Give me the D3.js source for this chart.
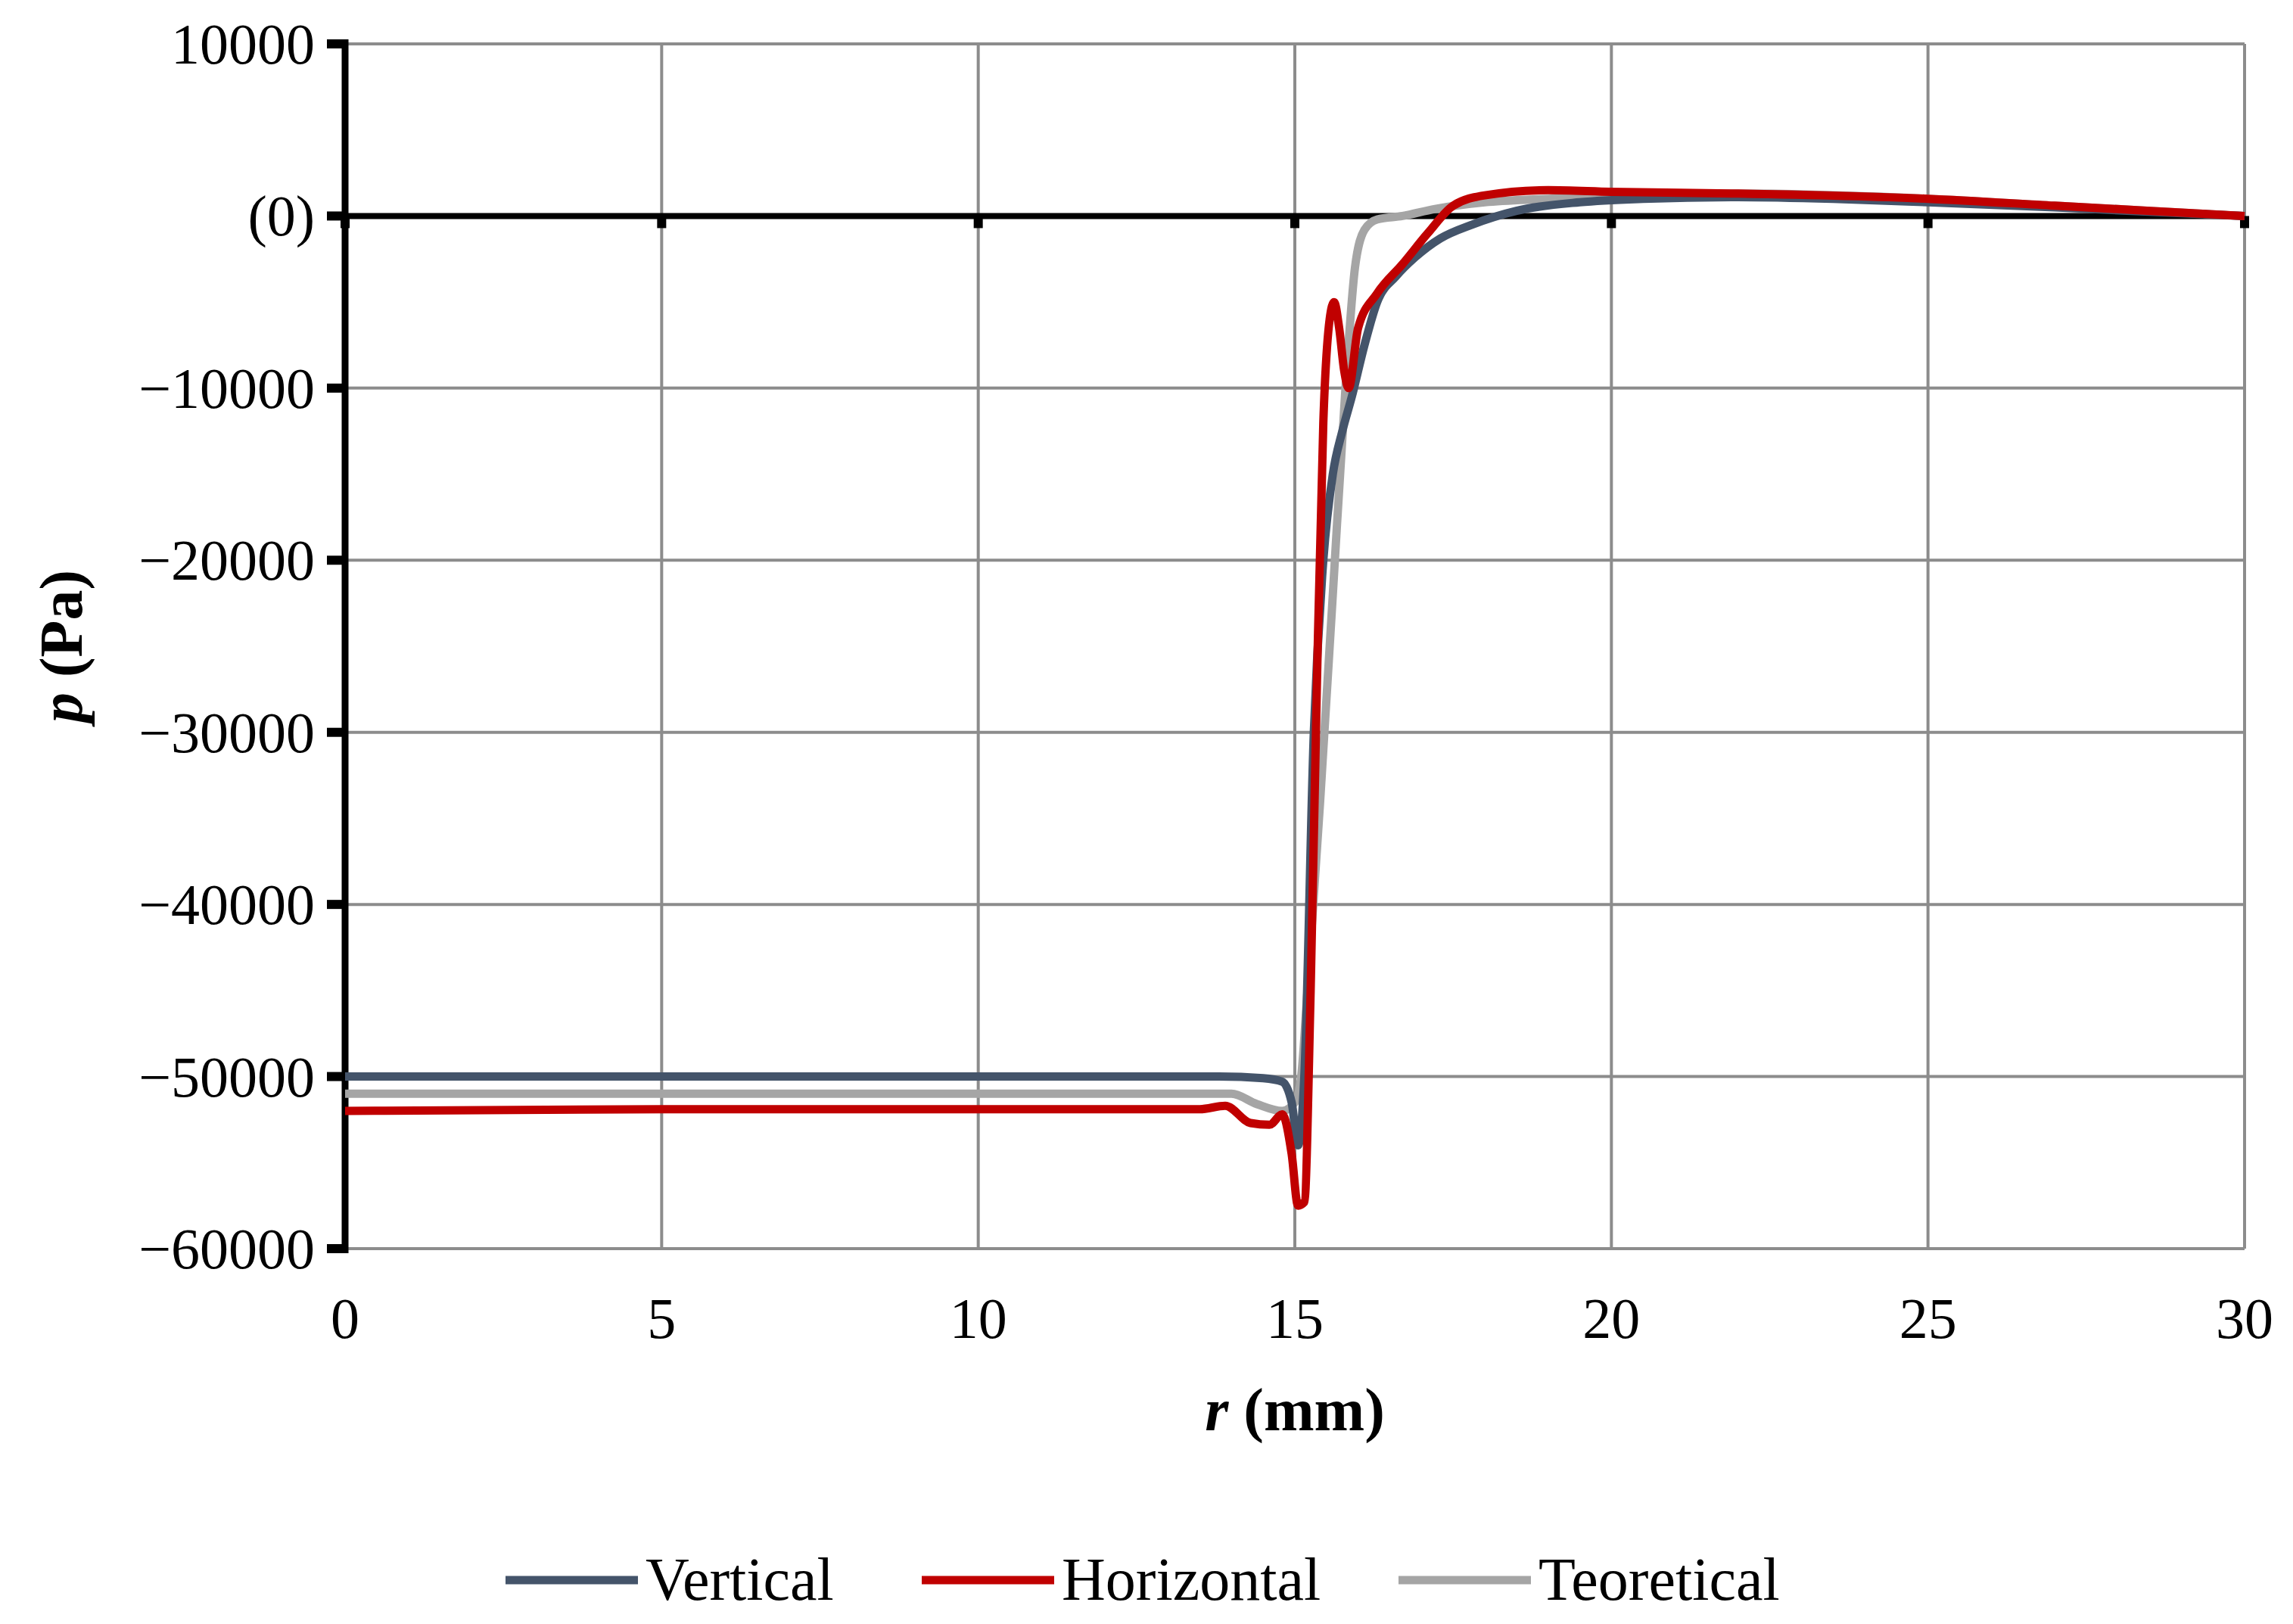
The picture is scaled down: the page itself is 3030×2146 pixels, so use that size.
<!DOCTYPE html>
<html><head><meta charset="utf-8">
<script src="https://cdn.jsdelivr.net/npm/d3@7"></script>
<style>body{margin:0;background:#fff}</style></head>
<body><svg id="c" width="3030" height="2146"></svg>
<script>
const seriesNames=["Vertical","Horizontal","Teoretical"];
const colors=["#44546a","#c00000","#a5a5a5"];
const vertR=[0,5,10,13.8,14.5,14.8,14.95,15.05,15.15,15.3,15.45,15.6,15.75,15.9,16.1,16.3,16.6,16.9,17.3,17.8,18.5,19.5,20.5,22,23.5,25,27,30];
const vertP=[-50000,-50000,-50000,-50000,-50100,-50300,-51500,-54000,-50000,-30000,-20000,-15000,-12500,-10500,-7500,-5000,-3500,-2400,-1300,-500,300,800,1000,1100,1000,800,500,0];
const horR=[0,5,10,13.5,13.9,14.3,14.6,14.8,14.95,15.05,15.15,15.25,15.35,15.45,15.55,15.62,15.7,15.78,15.85,16.0,16.3,16.7,17.1,17.5,18,19,20,22,25,27,30];
const horP=[-52000,-51900,-51900,-51900,-51700,-52700,-52800,-52200,-54500,-57500,-57300,-45000,-27000,-12000,-6000,-5000,-6500,-9000,-10000,-6500,-4500,-2800,-1000,600,1200,1500,1400,1300,1000,600,0];
const teoR=[0,5,10,14.0,14.4,14.8,15.0,15.1,15.2,15.4,15.6,15.8,15.95,16.1,16.3,16.7,17.2,18,19,20,22,25,27,30];
const teoP=[-51000,-51000,-51000,-51000,-51600,-52000,-51500,-50000,-45000,-34000,-22000,-10000,-3000,-800,-200,0,400,800,1000,1200,1300,1000,600,0];
const xTicks=[0,5,10,15,20,25,30];
const yTicks=[10000,0,-10000,-20000,-30000,-40000,-50000,-60000];
const yTickLabels=["10000","(0)","\u221210000","\u221220000","\u221230000","\u221240000","\u221250000","\u221260000"];

const svg=d3.select("#c");
const L=456,R=2966,T=58,B=1650;
const x=d3.scaleLinear().domain([0,30]).range([L,R]);
const y=d3.scaleLinear().domain([-60000,10000]).range([B,T]);
const font="'Liberation Serif','Times New Roman',serif";
svg.append("g").selectAll("line").data(xTicks.slice(1)).join("line")
 .attr("x1",d=>x(d)).attr("x2",d=>x(d)).attr("y1",T).attr("y2",B).attr("stroke","#8c8c8c").attr("stroke-width",4);
svg.append("g").selectAll("line").data(yTicks.filter(d=>d!==0)).join("line")
 .attr("x1",L).attr("x2",R).attr("y1",d=>y(d)).attr("y2",d=>y(d)).attr("stroke","#8c8c8c").attr("stroke-width",4);
svg.append("line").attr("x1",L).attr("x2",R).attr("y1",y(0)).attr("y2",y(0)).attr("stroke","#000").attr("stroke-width",8);
svg.append("g").selectAll("line").data(xTicks).join("line")
 .attr("x1",d=>x(d)).attr("x2",d=>x(d)).attr("y1",y(0)).attr("y2",y(0)+16).attr("stroke","#000").attr("stroke-width",12);
svg.append("line").attr("x1",L).attr("x2",L).attr("y1",T-6).attr("y2",B+6).attr("stroke","#000").attr("stroke-width",9);
svg.append("g").selectAll("line").data(yTicks).join("line")
 .attr("x1",L-24).attr("x2",L).attr("y1",d=>y(d)).attr("y2",d=>y(d)).attr("stroke","#000").attr("stroke-width",12);
svg.append("g").selectAll("text").data(yTicks).join("text")
 .attr("x",L-40).attr("y",d=>y(d)+26).attr("text-anchor","end").attr("font-family",font).attr("font-size",76)
 .text((d,i)=>yTickLabels[i]);
svg.append("g").selectAll("text").data(xTicks).join("text")
 .attr("x",d=>x(d)).attr("y",B+118).attr("text-anchor","middle").attr("font-family",font).attr("font-size",76).text(d=>d);
const xt=svg.append("text").attr("x",(L+R)/2).attr("y",B+240).attr("text-anchor","middle").attr("font-family",font).attr("font-size",80).attr("font-weight","bold");
xt.append("tspan").attr("font-style","italic").text("r");xt.append("tspan").text(" (mm)");
const yt=svg.append("text").attr("transform",`translate(108,${(T+B)/2}) rotate(-90)`).attr("text-anchor","middle").attr("font-family",font).attr("font-size",80).attr("font-weight","bold");
yt.append("tspan").attr("font-style","italic").text("p");yt.append("tspan").text(" (Pa)");
const data=[[vertR,vertP],[horR,horP],[teoR,teoP]];
const line=d3.line().x(d=>x(d[0])).y(d=>y(d[1])).curve(d3.curveMonotoneX);
[2,0,1].forEach(i=>{
 const pts=data[i][0].map((r,k)=>[r,data[i][1][k]]);
 svg.append("path").datum(pts).attr("d",line).attr("fill","none").attr("stroke",colors[i]).attr("stroke-width",11).attr("stroke-linejoin","round");
});
const lx=[668,1218,1848];
seriesNames.forEach((n,i)=>{
 svg.append("line").attr("x1",lx[i]).attr("x2",lx[i]+175).attr("y1",2088).attr("y2",2088).attr("stroke",colors[i]).attr("stroke-width",11);
 svg.append("text").attr("x",lx[i]+185).attr("y",2114).attr("font-family",font).attr("font-size",80).text(n);
});
</script></body></html>
